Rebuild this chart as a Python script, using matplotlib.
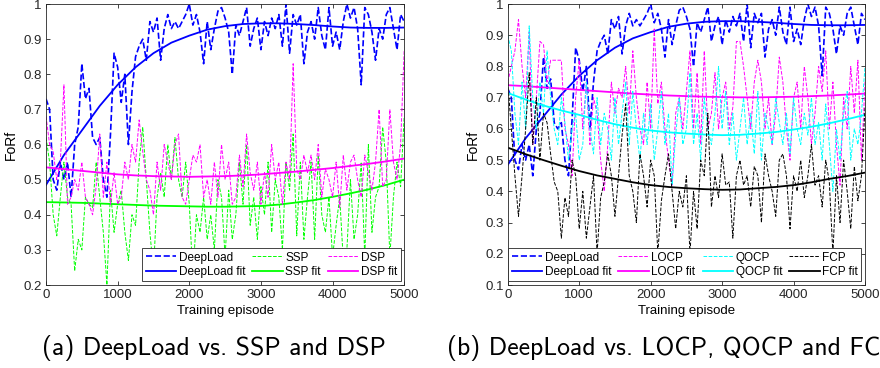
import numpy as np
import matplotlib
matplotlib.use("Agg")
import matplotlib.pyplot as plt

# episodes sampled every 50
episodes = np.arange(0, 5001, 50)
fit_episodes = np.arange(0, 5001, 250)

deepload = [0.73, 0.70, 0.50, 0.47, 0.55, 0.50, 0.55, 0.45, 0.60, 0.65,
            0.83, 0.73, 0.76, 0.62, 0.60, 0.62, 0.50, 0.45, 0.63, 0.86,
            0.82, 0.72, 0.80, 0.60, 0.75, 0.85, 0.88, 0.90, 0.84, 0.95,
            0.92, 0.96, 0.84, 0.93, 0.97, 0.93, 0.95, 0.93, 0.95, 0.97,
            1.00, 0.94, 0.97, 0.92, 0.83, 0.95, 0.87, 0.93, 0.98, 0.99,
            0.96, 0.92, 0.80, 0.94, 0.91, 0.95, 0.99, 0.88, 0.93, 0.96,
            0.87, 0.95, 0.91, 0.96, 0.93, 0.97, 0.88, 1.00, 0.86, 0.97,
            0.94, 0.97, 0.83, 0.92, 0.95, 0.90, 0.99, 0.91, 0.87, 0.99,
            0.88, 0.92, 0.87, 0.95, 1.00, 0.96, 0.99, 0.93, 0.77, 0.99,
            0.97, 0.92, 0.84, 0.93, 0.90, 0.97, 0.99, 0.93, 0.87, 0.97,
            0.95]
ssp = [0.62, 0.55, 0.40, 0.34, 0.45, 0.55, 0.45, 0.43, 0.24, 0.33,
       0.30, 0.45, 0.43, 0.42, 0.55, 0.45, 0.35, 0.20, 0.47, 0.35,
       0.43, 0.47, 0.35, 0.27, 0.40, 0.37, 0.55, 0.65, 0.50, 0.35,
       0.24, 0.45, 0.52, 0.45, 0.60, 0.50, 0.62, 0.50, 0.45, 0.55,
       0.43, 0.22, 0.40, 0.35, 0.45, 0.33, 0.40, 0.30, 0.50, 0.45,
       0.28, 0.47, 0.33, 0.40, 0.55, 0.43, 0.60, 0.37, 0.45, 0.33,
       0.48, 0.40, 0.55, 0.35, 0.50, 0.45, 0.30, 0.55, 0.47, 0.63,
       0.34, 0.55, 0.33, 0.45, 0.55, 0.33, 0.57, 0.40, 0.35, 0.45,
       0.28, 0.37, 0.45, 0.27, 0.30, 0.50, 0.33, 0.40, 0.55, 0.28,
       0.60, 0.35, 0.45, 0.48, 0.65, 0.55, 0.28, 0.45, 0.55, 0.48,
       0.68]
dsp = [0.68, 0.60, 0.58, 0.50, 0.55, 0.77, 0.43, 0.45, 0.50, 0.47,
       0.55, 0.45, 0.43, 0.40, 0.48, 0.63, 0.45, 0.55, 0.43, 0.52,
       0.43, 0.45, 0.55, 0.50, 0.60, 0.55, 0.67, 0.58, 0.50, 0.47,
       0.40, 0.55, 0.47, 0.60, 0.55, 0.50, 0.60, 0.63, 0.45, 0.43,
       0.50, 0.57, 0.55, 0.60, 0.45, 0.50, 0.43, 0.55, 0.45, 0.60,
       0.50, 0.55, 0.43, 0.45, 0.57, 0.48, 0.63, 0.52, 0.47, 0.55,
       0.43, 0.52, 0.45, 0.60, 0.50, 0.55, 0.43, 0.55, 0.50, 0.83,
       0.53, 0.50, 0.57, 0.52, 0.57, 0.50, 0.60, 0.45, 0.53, 0.50,
       0.45, 0.55, 0.42, 0.57, 0.47, 0.55, 0.57, 0.50, 0.45, 0.57,
       0.52, 0.47, 0.55, 0.70, 0.48, 0.50, 0.70, 0.55, 0.50, 0.60,
       0.87]
locp = [0.75, 0.80, 0.85, 0.95, 0.80, 0.70, 0.91, 0.55, 0.70, 0.88,
        0.87, 0.75, 0.82, 0.82, 0.82, 0.82, 0.60, 0.55, 0.45, 0.70,
        0.82, 0.60, 0.75, 0.55, 0.70, 0.65, 0.50, 0.40, 0.55, 0.75,
        0.65, 0.73, 0.70, 0.80, 0.65, 0.85, 0.70, 0.60, 0.55, 0.75,
        0.60, 0.92, 0.68, 0.75, 0.60, 0.50, 0.42, 0.65, 0.70, 0.60,
        0.72, 0.85, 0.60, 0.78, 0.55, 0.85, 0.60, 0.65, 0.78, 0.60,
        0.70, 0.75, 0.60, 0.67, 0.88, 0.88, 0.80, 0.70, 0.60, 0.75,
        0.82, 0.75, 0.60, 0.70, 0.55, 0.65, 0.83, 0.75, 0.60, 0.50,
        0.70, 0.75, 0.60, 0.80, 0.70, 0.55, 0.65, 0.80, 0.72, 0.85,
        0.60, 0.75, 0.55, 0.42, 0.70, 0.60, 0.80, 0.65, 0.82, 0.50,
        0.75]
qocp = [0.90, 0.85, 0.65, 0.55, 0.75, 0.60, 0.93, 0.70, 0.60, 0.75,
        0.65, 0.85, 0.70, 0.60, 0.55, 0.70, 0.62, 0.50, 0.60, 0.65,
        0.50, 0.55, 0.75, 0.60, 0.52, 0.70, 0.55, 0.65, 0.60, 0.50,
        0.70, 0.55, 0.65, 0.75, 0.55, 0.72, 0.60, 0.50, 0.65, 0.55,
        0.68, 0.50, 0.60, 0.72, 0.55, 0.65, 0.42, 0.58, 0.70, 0.55,
        0.60, 0.78, 0.55, 0.65, 0.50, 0.70, 0.60, 0.55, 0.65, 0.80,
        0.60, 0.72, 0.55, 0.65, 0.50, 0.60, 0.70, 0.55, 0.65, 0.52,
        0.72, 0.50, 0.65, 0.60, 0.55, 0.70, 0.62, 0.55, 0.65, 0.52,
        0.70, 0.60, 0.55, 0.65, 0.58, 0.70, 0.55, 0.62, 0.50, 0.68,
        0.55, 0.40, 0.60, 0.50, 0.65, 0.72, 0.50, 0.60, 0.55, 0.65,
        0.80]
fcp = [0.75, 0.60, 0.45, 0.32, 0.45, 0.60, 0.78, 0.55, 0.70, 0.50,
       0.65, 0.62, 0.52, 0.43, 0.40, 0.25, 0.38, 0.32, 0.50, 0.45,
       0.28, 0.40, 0.25, 0.35, 0.45, 0.20, 0.38, 0.43, 0.52, 0.45,
       0.32, 0.45, 0.58, 0.68, 0.45, 0.40, 0.30, 0.52, 0.45, 0.35,
       0.50, 0.45, 0.20, 0.37, 0.45, 0.52, 0.40, 0.28, 0.40, 0.35,
       0.45, 0.20, 0.40, 0.28, 0.50, 0.45, 0.65, 0.35, 0.45, 0.38,
       0.52, 0.42, 0.43, 0.25, 0.45, 0.50, 0.42, 0.45, 0.35, 0.48,
       0.45, 0.30, 0.52, 0.45, 0.40, 0.32, 0.50, 0.52, 0.45, 0.28,
       0.45, 0.40, 0.50, 0.38, 0.45, 0.55, 0.42, 0.45, 0.35, 0.50,
       0.43, 0.20, 0.45, 0.30, 0.50, 0.40, 0.28, 0.48, 0.37, 0.45,
       0.67]

# fitted curves, read every 250 episodes
deepload_fit = [0.485, 0.57, 0.64, 0.71, 0.77, 0.82, 0.86, 0.89, 0.91, 0.927, 0.937,
                0.943, 0.945, 0.945, 0.943, 0.940, 0.936, 0.933, 0.932, 0.932, 0.933]
ssp_fit = [0.436, 0.435, 0.434, 0.432, 0.430, 0.428, 0.426, 0.425, 0.424, 0.423, 0.423,
           0.424, 0.425, 0.429, 0.435, 0.442, 0.451, 0.461, 0.472, 0.485, 0.500]
dsp_fit = [0.535, 0.530, 0.525, 0.520, 0.515, 0.512, 0.510, 0.509, 0.508, 0.509, 0.510,
           0.512, 0.515, 0.519, 0.523, 0.528, 0.533, 0.539, 0.545, 0.552, 0.560]
locp_fit = [0.740, 0.737, 0.733, 0.729, 0.725, 0.721, 0.717, 0.713, 0.710, 0.707, 0.705,
            0.703, 0.702, 0.701, 0.701, 0.702, 0.703, 0.705, 0.707, 0.710, 0.713]
qocp_fit = [0.715, 0.694, 0.675, 0.659, 0.645, 0.629, 0.615, 0.604, 0.595, 0.589, 0.585,
            0.582, 0.580, 0.581, 0.585, 0.590, 0.598, 0.607, 0.618, 0.631, 0.645]
fcp_fit = [0.540, 0.519, 0.500, 0.482, 0.465, 0.451, 0.440, 0.429, 0.420, 0.414, 0.410,
           0.407, 0.405, 0.406, 0.410, 0.414, 0.420, 0.429, 0.440, 0.449, 0.460]

BLUE, GREEN, MAG, CYAN, BLACK = "#0000ff", "#00ff00", "#ff00ff", "#00ffff", "#000000"
tick_font = ["Liberation Sans Narrow", "Liberation Sans"]

fig = plt.figure(figsize=(8.8, 3.68), dpi=100)
ax1 = fig.add_axes([0.0523, 0.2255, 0.407, 0.7636])
ax2 = fig.add_axes([0.577, 0.2255, 0.406, 0.7636])


def style_axes(ax, ymin):
    ax.set_xlim(0, 5000)
    ax.set_ylim(ymin, 1)
    ax.set_xticks(np.arange(0, 5001, 1000))
    yt = np.round(np.arange(ymin, 1.0001, 0.1), 1)
    ax.set_yticks(yt)
    ax.set_yticklabels(["1" if v == 1 else f"{v:.1f}" for v in yt])
    ax.tick_params(direction="in", top=True, right=True, length=3, width=0.6,
                   labelsize=9.5, pad=3, colors="#262626")
    for lab in ax.get_xticklabels() + ax.get_yticklabels():
        lab.set_family(tick_font)
    for s in ax.spines.values():
        s.set_linewidth(0.6)
        s.set_color("#262626")
    ax.set_xlabel("Training episode", family=tick_font, fontsize=9.5, labelpad=3)
    ax.set_ylabel("FoRf", family=tick_font, fontsize=10, labelpad=4)


# panel (a)
h = []
h += ax1.plot(episodes, deepload, "--", color=BLUE, lw=1.2, label="DeepLoad")
h += ax1.plot(fit_episodes, deepload_fit, "-", color=BLUE, lw=1.3, label="DeepLoad fit")
h += ax1.plot(episodes, ssp, "--", color=GREEN, lw=0.7, label="SSP")
h += ax1.plot(fit_episodes, ssp_fit, "-", color=GREEN, lw=1.3, label="SSP fit")
h += ax1.plot(episodes, dsp, "--", color=MAG, lw=0.7, label="DSP")
h += ax1.plot(fit_episodes, dsp_fit, "-", color=MAG, lw=1.3, label="DSP fit")
style_axes(ax1, 0.2)
leg = ax1.legend(handles=h, ncol=3, loc="lower right", fancybox=False,
                 prop={"family": tick_font, "size": 8.5}, handlelength=2.6,
                 handletextpad=0.2, columnspacing=0.6, borderpad=0.3,
                 labelspacing=0.2, borderaxespad=0.3, framealpha=1)
leg.get_frame().set_edgecolor("#262626")
leg.get_frame().set_linewidth(0.6)

# panel (b)
h = []
h += ax2.plot(episodes, deepload, "--", color=BLUE, lw=1.2, label="DeepLoad")
h += ax2.plot(fit_episodes, deepload_fit, "-", color=BLUE, lw=1.3, label="DeepLoad fit")
h += ax2.plot(episodes, locp, "--", color=MAG, lw=0.7, label="LOCP")
h += ax2.plot(fit_episodes, locp_fit, "-", color=MAG, lw=1.3, label="LOCP fit")
h += ax2.plot(episodes, qocp, "--", color=CYAN, lw=0.7, label="QOCP")
h += ax2.plot(fit_episodes, qocp_fit, "-", color=CYAN, lw=1.3, label="QOCP fit")
h += ax2.plot(episodes, fcp, "--", color=BLACK, lw=0.7, label="FCP")
h += ax2.plot(fit_episodes, fcp_fit, "-", color=BLACK, lw=1.3, label="FCP fit")
style_axes(ax2, 0.1)
leg = ax2.legend(handles=h, ncol=4, loc="lower right", fancybox=False,
                 prop={"family": tick_font, "size": 8.5}, handlelength=2.6,
                 handletextpad=0.2, columnspacing=0.6, borderpad=0.3,
                 labelspacing=0.2, borderaxespad=0.3, framealpha=1)
leg.get_frame().set_edgecolor("#262626")
leg.get_frame().set_linewidth(0.6)

# captions (the second one runs past the right edge, as in the source)
fig.text(214 / 880, 1 - 348 / 368, "(a) DeepLoad vs. SSP and DSP", ha="center",
         va="center", fontsize=18.5, family=["cmss10", "DejaVu Sans"])
fig.text(447 / 880, 1 - 348 / 368, "(b) DeepLoad vs. LOCP, QOCP and FCP", ha="left",
         va="center", fontsize=18.5, family=["cmss10", "DejaVu Sans"])

fig.savefig("out.png", dpi=100)
